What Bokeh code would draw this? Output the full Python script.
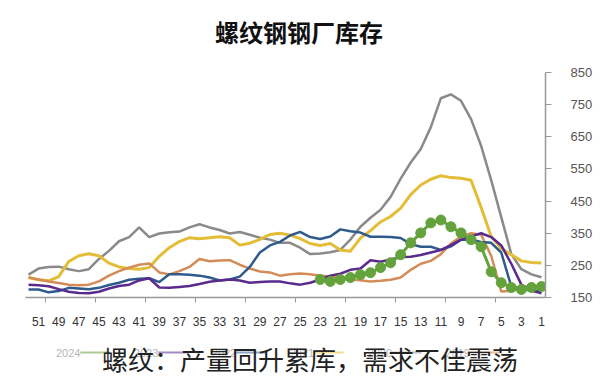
from bokeh.plotting import figure
from bokeh.layouts import column
from bokeh.models import Range1d, FixedTicker
from bokeh.core.properties import value
from bokeh.embed import file_html
from bokeh.resources import INLINE

# ---------------- data (week 1..52) ----------------
weeks = list(range(1, 53))
tick_weeks = list(range(1, 52, 2))
tick_labels = [str(w) for w in tick_weeks]
y_ticks = [150, 250, 350, 450, 550, 650, 750, 850]

s2020 = [213, 222, 238, 285, 400, 515, 622, 705, 762, 782, 770, 680, 612, 570, 520, 463,
         423, 398, 370, 330, 298, 291, 287, 285, 305, 320, 320, 330, 336, 345, 354, 349,
         360, 368, 378, 368, 355, 353, 349, 338, 368, 338, 325, 295, 270, 238, 232, 238,
         246, 245, 240, 221]
s2021 = [257, 259, 264, 283, 303, 340, 430, 515, 521, 523, 529, 518, 500, 470, 428, 402,
         385, 358, 335, 294, 298, 318, 312, 318, 333, 344, 350, 346, 331, 319, 313, 336,
         339, 336, 333, 336, 324, 305, 278, 243, 238, 240, 245, 257, 280, 286, 280, 262,
         215, 202, 205, 212]
s2019 = [181, 181, 178, 170, 169, 280, 345, 350, 340, 318, 285, 264, 255, 236, 212, 205,
         202, 200, 204, 206, 213, 215, 218, 222, 225, 222, 218, 228, 231, 240, 252, 266,
         265, 263, 270, 245, 232, 222, 228, 256, 252, 243, 232, 218, 200, 190, 188, 190,
         195, 200, 206, 212]
s2022 = [169, 172, 176, 184, 290, 320, 323, 330, 330, 309, 298, 308, 308, 316, 335, 338,
         339, 339, 352, 356, 362, 340, 332, 338, 354, 343, 323, 312, 290, 245, 215, 206,
         203, 212, 218, 221, 222, 222, 198, 210, 208, 205, 196, 189, 180, 176, 178, 180,
         170, 166, 175, 175]
s2023 = [163, 172, 190, 255, 312, 338, 350, 340, 330, 313, 298, 290, 282, 277, 276, 268,
         261, 266, 240, 236, 224, 218, 206, 196, 190, 194, 200, 200, 198, 196, 203, 206,
         203, 199, 192, 186, 183, 180, 181, 210, 203, 190, 186, 178, 168, 163, 164, 168,
         176, 185, 188, 190]
weeks2024 = list(range(1, 24))
s2024 = [184, 181, 175, 181, 196, 230, 308, 330, 351, 370, 391, 382, 351, 320, 283, 258,
         243, 227, 221, 212, 206, 200, 206]

title_text = "螺纹钢钢厂库存"
caption_text = "螺纹：产量回升累库，需求不佳震荡"
legend_order = ["2024", "2023", "2022", "2021", "2020", "2019"]

colors = {"2020": "#8a8a8a", "2021": "#e3bd35", "2019": "#d38c57",
          "2022": "#2e5b8c", "2023": "#5a2a8e", "2024": "#64a23c"}

W = 598


def blank(h):
    f = figure(width=W, height=h, output_backend="svg", toolbar_location=None,
               x_range=Range1d(0, W), y_range=Range1d(0, h),
               min_border=0, min_border_left=0, min_border_right=0,
               min_border_top=0, min_border_bottom=0)
    f.axis.visible = False
    f.grid.visible = False
    f.outline_line_color = None
    f.background_fill_color = "white"
    f.border_fill_color = "white"
    return f


# ---------------- title strip ----------------
top = blank(60)
top.text(x=[218], y=[29], text=[title_text], text_align="left", text_baseline="middle",
         text_font=value("Noto Sans CJK SC"), text_font_size="24px",
         text_font_style="bold", text_color="#111111")

# ---------------- main chart ----------------
p = figure(width=W, height=268, output_backend="svg", toolbar_location=None,
           x_range=Range1d(52.3, 0.6), y_range=Range1d(150, 850),
           y_axis_location="right", min_border_left=25, min_border_right=53,
           min_border_top=12, min_border_bottom=30)
p.outline_line_color = None
p.xgrid.visible = False
p.ygrid.visible = False
p.background_fill_color = "white"
p.border_fill_color = "white"

p.line(weeks, s2020, line_color=colors["2020"], line_width=2.5)
p.line(weeks, s2021, line_color=colors["2021"], line_width=3)
p.line(weeks, s2019, line_color=colors["2019"], line_width=2.5)
p.line(weeks, s2022, line_color=colors["2022"], line_width=2.5)
p.line(weeks, s2023, line_color=colors["2023"], line_width=2.5)
p.line(weeks2024, s2024, line_color=colors["2024"], line_width=3)
p.scatter(weeks2024, s2024, size=10, fill_color=colors["2024"], line_color=colors["2024"])

xa = p.xaxis[0]
xa.ticker = FixedTicker(ticks=tick_weeks,
                        minor_ticks=[50.3 - 4.97 * i for i in range(10)])
xa.major_label_overrides = {w: l for w, l in zip(tick_weeks, tick_labels)}
xa.major_tick_line_color = None
xa.minor_tick_out = 5
xa.minor_tick_in = 0
xa.minor_tick_line_color = "#999999"
xa.axis_line_color = "#999999"
xa.axis_line_width = 1.5
xa.major_label_text_font = "Liberation Sans"
xa.major_label_text_font_size = "12px"
xa.major_label_text_color = "#333333"
xa.major_label_standoff = 13

ya = p.yaxis[0]
ya.ticker = FixedTicker(ticks=y_ticks)
ya.axis_line_color = "#999999"
ya.axis_line_width = 1.5
ya.major_tick_line_color = "#999999"
ya.major_tick_out = 6
ya.major_tick_in = 0
ya.minor_tick_line_color = None
ya.major_label_text_font = "Liberation Sans"
ya.major_label_text_font_size = "13px"
ya.major_label_text_color = "#555555"
ya.major_label_standoff = 19

# ---------------- legend + caption strip ----------------
bot = blank(50)
step = 89.6
lab_x = [35 + step * i for i in range(len(legend_order))]
bot.text(x=lab_x, y=[26] * len(lab_x), text=legend_order, text_align="left",
         text_baseline="middle", text_font=value("Liberation Sans"),
         text_font_size="11px", text_color="#b5b5b5")
bot.segment(x0=[x + 28 for x in lab_x], y0=[26] * len(lab_x),
            x1=[x + 62 for x in lab_x], y1=[26] * len(lab_x),
            line_color=[colors[y] for y in legend_order], line_width=2, line_alpha=0.55)
bot.text(x=[88], y=[20], text=[caption_text], text_align="left", text_baseline="middle",
         text_font=value("Noto Sans CJK SC"), text_font_size="26px", text_color="#222222")

layout = column(top, p, bot, spacing=0)
open("out.html", "w").write(file_html(layout, INLINE))
